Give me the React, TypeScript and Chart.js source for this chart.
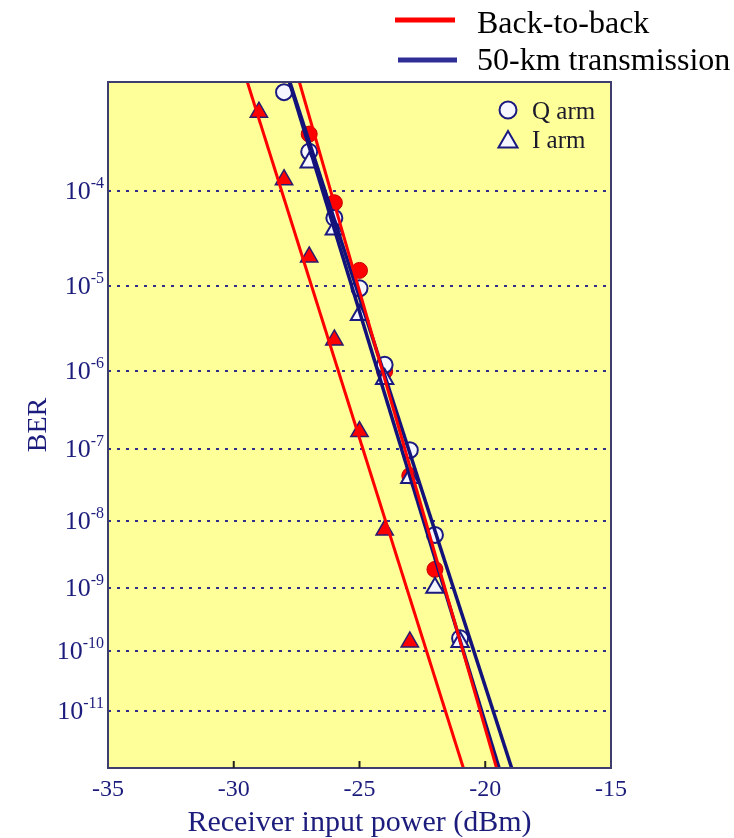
import React, { useEffect, useRef } from 'react';
import { Chart, registerables } from 'chart.js';

Chart.register(...registerables);

// ---- data (BER, power in dBm) ----
const b2bIArmPower = [-29, -28, -27, -26, -25, -24, -23];
const b2bIArmBer = [5.5e-4, 1.3e-4, 2.1e-5, 2.4e-6, 1.7e-7, 7.3e-9, 1.4e-10];

const b2bQArmPower = [-27, -26, -25, -24, -23, -22];
const b2bQArmBer = [3.5e-4, 7.7e-5, 1.5e-5, 1.0e-6, 4.3e-8, 1.9e-9];

const km50QArmPower = [-28, -27, -26, -25, -24, -23, -22, -21];
const km50QArmBer = [8.2e-4, 2.4e-4, 5.4e-5, 9.5e-6, 1.2e-6, 9.6e-8, 6.2e-9, 1.6e-10];

const km50IArmPower = [-27, -26, -25, -24, -23, -22, -21];
const km50IArmBer = [1.9e-4, 4.1e-5, 4.7e-6, 8.0e-7, 4.0e-8, 1.0e-9, 1.4e-10];

// fitted straight lines: power at the two BER ends
const fitBer = [1e-3, 1e-12];
const b2bIArmFit = [-29.46, -20.87];
const b2bQArmFit = [-27.39, -19.55];
const km50QArmFit = [-27.79, -19.45];
const km50IArmFit = [-27.77, -18.95];

const berTickExponents = [-4, -5, -6, -7, -8, -9, -10, -11];
const berRange = [1e-3, 1e-12];
const xRange = [-35, -15];
const xTickStep = 5;
const xInnerTicks = [-30, -25, -20];

const legendTop = ['Back-to-back', '50-km transmission'];
const legendInner = ['Q arm', 'I arm'];

// ---- BER scale (linear in Q) ----
function erfc(x: number): number {
  const z = Math.abs(x);
  const t = 1 / (1 + 0.5 * z);
  const r =
    t *
    Math.exp(
      -z * z -
        1.26551223 +
        t *
          (1.00002368 +
            t *
              (0.37409196 +
                t *
                  (0.09678418 +
                    t *
                      (-0.18628806 +
                        t *
                          (0.27886807 +
                            t *
                              (-1.13520398 +
                                t * (1.48851587 + t * (-0.82215223 + t * 0.17087277))))))))
    );
  return x >= 0 ? r : 2 - r;
}
const berOfQ = (q: number) => 0.5 * erfc(q / Math.SQRT2);
function qOfBer(ber: number): number {
  let lo = 0;
  let hi = 12;
  for (let i = 0; i < 80; i++) {
    const mid = (lo + hi) / 2;
    if (berOfQ(mid) > ber) lo = mid;
    else hi = mid;
  }
  return (lo + hi) / 2;
}

const pts = (xs: number[], bers: number[]) => xs.map((x, i) => ({ x, y: qOfBer(bers[i]) }));
const fitPts = (xs: number[]) => xs.map((x, i) => ({ x, y: qOfBer(fitBer[i]) }));

const SERIF = "'Liberation Serif', 'Times New Roman', serif";
const NAVY_TEXT = '#1c1c7c';
const RED = '#ff0000';
const NAVY_LINE = '#12127a';
const OPEN_FILL = '#f6f6ff';

const overlayPlugin = {
  id: 'overlay',
  beforeDraw(chart: any) {
    const { ctx, chartArea: a } = chart;
    ctx.save();
    ctx.fillStyle = '#ffff99';
    ctx.fillRect(a.left, a.top, a.right - a.left, a.bottom - a.top);
    ctx.restore();
  },
  afterDraw(chart: any) {
    const { ctx, chartArea: a } = chart;
    const xs = chart.scales.x;
    const ys = chart.scales.y;
    ctx.save();
    // frame
    ctx.strokeStyle = '#3d3d6e';
    ctx.lineWidth = 2;
    ctx.strokeRect(a.left, a.top, a.right - a.left, a.bottom - a.top);
    // inward x ticks
    ctx.strokeStyle = '#222222';
    ctx.lineWidth = 2;
    xInnerTicks.forEach((v) => {
      const px = xs.getPixelForValue(v);
      ctx.beginPath();
      ctx.moveTo(px, a.bottom);
      ctx.lineTo(px, a.bottom - 7);
      ctx.stroke();
    });
    // y tick labels 10^n
    ctx.fillStyle = NAVY_TEXT;
    ctx.textAlign = 'right';
    ctx.textBaseline = 'alphabetic';
    const rightX = a.left - 4;
    berTickExponents.forEach((e) => {
      const py = ys.getPixelForValue(qOfBer(Math.pow(10, e)));
      const sup = String(e);
      ctx.font = `16px ${SERIF}`;
      const supW = ctx.measureText(sup).width;
      ctx.fillText(sup, rightX, py - 3);
      ctx.font = `26px ${SERIF}`;
      ctx.fillText('10', rightX - supW, py + 8);
    });
    // top legend
    ctx.textAlign = 'left';
    ctx.font = `32px ${SERIF}`;
    ctx.fillStyle = '#000000';
    ctx.lineWidth = 5;
    ctx.strokeStyle = RED;
    ctx.beginPath();
    ctx.moveTo(395, 20);
    ctx.lineTo(455, 20);
    ctx.stroke();
    ctx.fillText(legendTop[0], 477, 33);
    ctx.strokeStyle = '#2e2e96';
    ctx.beginPath();
    ctx.moveTo(398, 60);
    ctx.lineTo(457, 60);
    ctx.stroke();
    ctx.fillText(legendTop[1], 477, 70);
    // inner legend
    ctx.font = `25px ${SERIF}`;
    ctx.lineWidth = 2;
    ctx.strokeStyle = '#1a1a80';
    ctx.fillStyle = OPEN_FILL;
    ctx.beginPath();
    ctx.arc(508, 110, 8.5, 0, Math.PI * 2);
    ctx.fill();
    ctx.stroke();
    ctx.beginPath();
    const r = 11;
    const cy = 142;
    ctx.moveTo(508, cy - r);
    ctx.lineTo(508 + r * Math.sin((2 * Math.PI) / 3), cy - r * Math.cos((2 * Math.PI) / 3));
    ctx.lineTo(508 - r * Math.sin((2 * Math.PI) / 3), cy - r * Math.cos((2 * Math.PI) / 3));
    ctx.closePath();
    ctx.fill();
    ctx.stroke();
    ctx.fillStyle = '#1a1a2a';
    ctx.fillText(legendInner[0], 532, 119);
    ctx.fillText(legendInner[1], 532, 148);
    ctx.restore();
  },
};

export default function App() {
  const ref = useRef<HTMLCanvasElement | null>(null);
  useEffect(() => {
    if (!ref.current) return;
    const lineDs = (data: any, color: string, w: number) => ({
      data,
      showLine: true,
      borderColor: color,
      borderWidth: w,
      pointRadius: 0,
      pointHoverRadius: 0,
      fill: false,
      order: 0,
    });
    const chart = new Chart(ref.current, {
      type: 'scatter',
      data: {
        datasets: [
          lineDs(fitPts(b2bIArmFit), RED, 3),
          lineDs(fitPts(b2bQArmFit), RED, 3),
          lineDs(fitPts(km50QArmFit), NAVY_LINE, 3.5),
          lineDs(fitPts(km50IArmFit), NAVY_LINE, 3.5),
          {
            data: pts(km50IArmPower, km50IArmBer),
            pointStyle: 'triangle',
            pointRadius: 10,
            backgroundColor: OPEN_FILL,
            borderColor: '#1a1a80',
            borderWidth: 2,
            order: 1,
            clip: false,
          },
          {
            data: pts(km50QArmPower, km50QArmBer),
            pointStyle: 'circle',
            pointRadius: 8,
            backgroundColor: OPEN_FILL,
            borderColor: '#1a1a80',
            borderWidth: 2,
            order: 2,
            clip: false,
          },
          {
            data: pts(b2bIArmPower, b2bIArmBer),
            pointStyle: 'triangle',
            pointRadius: 10,
            backgroundColor: RED,
            borderColor: '#2a1a70',
            borderWidth: 1.5,
            order: 3,
            clip: false,
          },
          {
            data: pts(b2bQArmPower, b2bQArmBer),
            pointStyle: 'circle',
            pointRadius: 8,
            backgroundColor: RED,
            borderColor: '#c00000',
            borderWidth: 1,
            order: 4,
            clip: false,
          },
        ] as any,
      },
      options: {
        responsive: false,
        animation: false,
        events: [],
        layout: { padding: { left: 0, right: 123, top: 82, bottom: 0 } },
        plugins: { legend: { display: false }, tooltip: { enabled: false } },
        scales: {
          x: {
            type: 'linear',
            min: xRange[0],
            max: xRange[1],
            ticks: {
              stepSize: xTickStep,
              color: NAVY_TEXT,
              font: { family: SERIF, size: 24 },
              padding: 7,
            },
            grid: { display: false, drawTicks: false },
            border: { display: false },
            title: {
              display: true,
              text: 'Receiver input power (dBm)',
              color: NAVY_TEXT,
              font: { family: SERIF, size: 30, lineHeight: 1 },
              padding: { top: 0, bottom: 0 },
            },
            afterFit: (s: any) => {
              s.height = 70;
            },
          },
          y: {
            type: 'linear',
            min: qOfBer(berRange[0]),
            max: qOfBer(berRange[1]),
            reverse: true,
            afterBuildTicks: (s: any) => {
              s.ticks = berTickExponents.map((e) => ({ value: qOfBer(Math.pow(10, e)) }));
            },
            ticks: { display: false },
            grid: { color: '#30308a', lineWidth: 2, drawTicks: false },
            border: { display: false, dash: [3, 6] },
            title: {
              display: true,
              text: 'BER',
              color: NAVY_TEXT,
              font: { family: SERIF, size: 28 },
              padding: { top: 22, bottom: 0 },
            },
            afterFit: (s: any) => {
              s.width = 108;
            },
          },
        },
      },
      plugins: [overlayPlugin],
    } as any);
    return () => chart.destroy();
  }, []);
  return (
    <div style={{ position: 'fixed', left: 0, top: 0, width: 734, height: 838, background: '#ffffff' }}>
      <canvas ref={ref} width={734} height={838} style={{ display: 'block' }} />
    </div>
  );
}
